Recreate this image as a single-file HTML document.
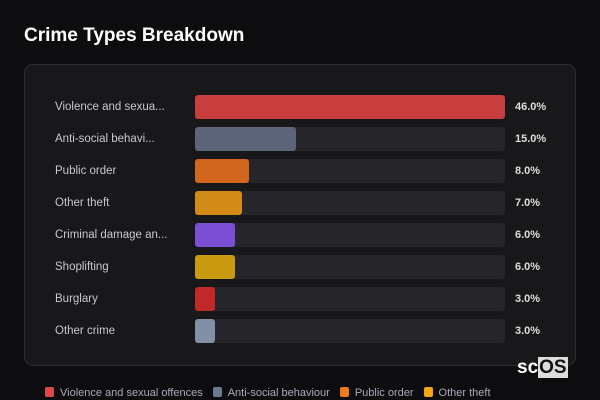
<!DOCTYPE html>
<html><head><meta charset="utf-8"><style>
body{margin:0;width:600px;height:400px;background:#0d0d10;font-family:"Liberation Sans","DejaVu Sans",sans-serif;position:relative;overflow:hidden}
.t{position:absolute;left:24px;top:25px;color:#fff;font:bold 19px "Liberation Sans",sans-serif}
.p{position:absolute;left:24px;top:64px;width:550px;height:300px;border:1px solid #2e2e33;border-radius:9px;background:#18181b}
.r{position:absolute;left:0;width:600px;height:24px}
.l{position:absolute;left:55px;top:5px;line-height:14px;color:#c8c8cc;font-size:11.5px}
.tr{position:absolute;left:195px;top:0;width:310px;height:24px;background:#25252a;border-radius:3px}
.b{position:absolute;left:195px;top:0;height:24px;border-radius:3px}
.v{position:absolute;left:515px;top:5px;line-height:14px;color:#ddd;font-size:11px;font-weight:bold}
.lg{position:absolute;top:387px;left:45px;font-size:11px;color:#aab;white-space:nowrap}
.lg span{display:inline-block;width:9px;height:10px;border-radius:2px;vertical-align:-1px;margin-right:6px}
.lg i{font-style:normal;margin-right:10px}
.logo{position:absolute;left:517px;top:357px;font:bold 19px "Liberation Sans",sans-serif;color:#fff}
.logo b{background:#ddd;color:#111;padding:0 1px}
</style></head><body>
<div class="t">Crime Types Breakdown</div>
<div class="p"></div>
<div class="r" style="top:95px"><div class="l">Violence and sexua...</div><div class="tr"></div><div class="b" style="width:310px;background:#c83e3e"></div><div class="v">46.0%</div></div>
<div class="r" style="top:127px"><div class="l">Anti-social behavi...</div><div class="tr"></div><div class="b" style="width:101px;background:#5b6577"></div><div class="v">15.0%</div></div>
<div class="r" style="top:159px"><div class="l">Public order</div><div class="tr"></div><div class="b" style="width:54px;background:#d2661e"></div><div class="v">8.0%</div></div>
<div class="r" style="top:191px"><div class="l">Other theft</div><div class="tr"></div><div class="b" style="width:47px;background:#d38b17"></div><div class="v">7.0%</div></div>
<div class="r" style="top:223px"><div class="l">Criminal damage an...</div><div class="tr"></div><div class="b" style="width:40px;background:#7a4fd4"></div><div class="v">6.0%</div></div>
<div class="r" style="top:255px"><div class="l">Shoplifting</div><div class="tr"></div><div class="b" style="width:40px;background:#c99a10"></div><div class="v">6.0%</div></div>
<div class="r" style="top:287px"><div class="l">Burglary</div><div class="tr"></div><div class="b" style="width:20px;background:#c0282a"></div><div class="v">3.0%</div></div>
<div class="r" style="top:319px"><div class="l">Other crime</div><div class="tr"></div><div class="b" style="width:20px;background:#8090a6"></div><div class="v">3.0%</div></div>
<div class="logo">sc<b>OS</b></div>
<div class="lg"><span style="background:#e04848"></span><i>Violence and sexual offences</i><span style="background:#6b7a90"></span><i>Anti-social behaviour</i><span style="background:#f07a1a"></span><i>Public order</i><span style="background:#f5a512"></span><i>Other theft</i></div>
</body></html>
